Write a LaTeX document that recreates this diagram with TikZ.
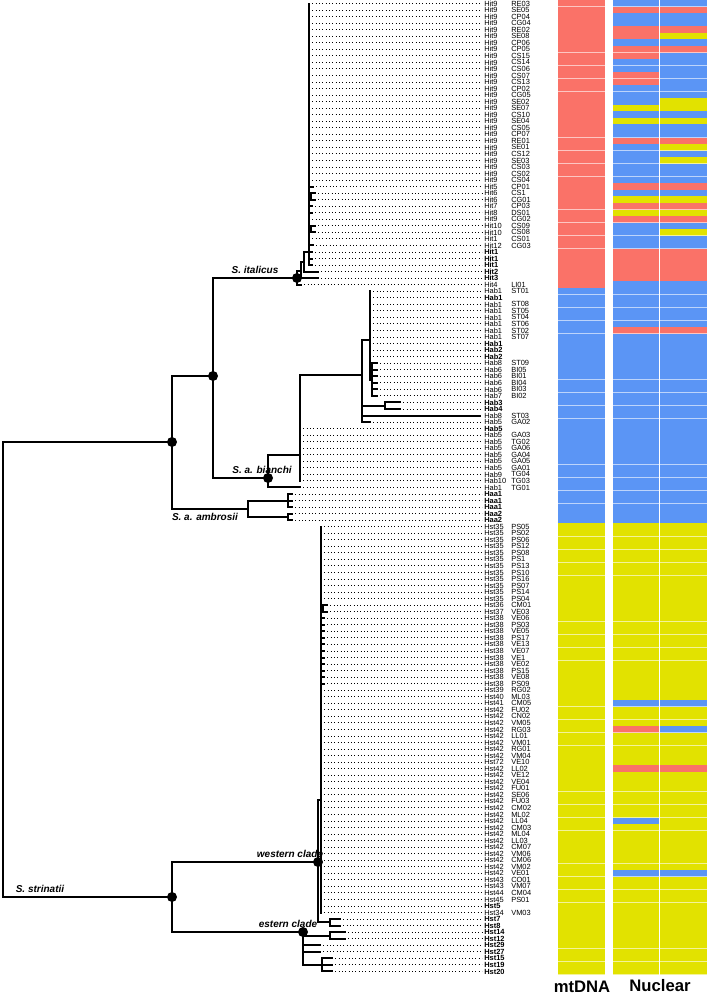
\documentclass[tikz,border=0pt]{standalone}
\usepackage{fontspec}
\setmainfont{Liberation Sans}
\begin{document}
\begin{tikzpicture}[x=0.75pt,y=-0.75pt,
  br/.style={line width=1.5pt,line cap=rect},
  dotl/.style={line width=0.7pt,dash pattern=on 0.7pt off 1.8pt},
  lab/.style={font=\fontsize{5.6}{5.6}\selectfont,anchor=west,inner sep=0pt},
  nd/.style={circle,fill=black,inner sep=0pt,minimum size=7.5pt},
  clab/.style={font=\fontsize{7.5}{7.5}\selectfont\bfseries\itshape,inner sep=1pt},
  head/.style={font=\fontsize{12.5}{12.5}\selectfont\bfseries,inner sep=0pt}]
\useasboundingbox (0,0) rectangle (709,996);
\definecolor{cr}{HTML}{FA7268}
\definecolor{cb}{HTML}{5B95F5}
\definecolor{cy}{HTML}{E2E200}
\foreach \i/\tx/\lA/\lB/\bo/\cM/\cL/\cR in {
1/309/Hit9/RE03/0/cr/cb/cb, 2/309/Hit9/SE05/0/cr/cr/cr, 3/309/Hit9/CP04/0/cr/cb/cb,
4/309/Hit9/CG04/0/cr/cb/cb, 5/309/Hit9/RE02/0/cr/cr/cr, 6/309/Hit9/SE08/0/cr/cr/cy,
7/309/Hit9/CP06/0/cr/cb/cb, 8/309/Hit9/CP05/0/cr/cr/cr, 9/309/Hit9/CS15/0/cr/cr/cb,
10/309/Hit9/CS14/0/cr/cb/cb, 11/309/Hit9/CS06/0/cr/cb/cb, 12/309/Hit9/CS07/0/cr/cr/cb,
13/309/Hit9/CS13/0/cr/cr/cb, 14/309/Hit9/CP02/0/cr/cb/cb, 15/309/Hit9/CG05/0/cr/cb/cb,
16/309/Hit9/SE02/0/cr/cb/cy, 17/309/Hit9/SE07/0/cr/cy/cy, 18/309/Hit9/CS10/0/cr/cb/cb,
19/309/Hit9/SE04/0/cr/cy/cy, 20/309/Hit9/CS05/0/cr/cb/cb, 21/309/Hit9/CP07/0/cr/cb/cb,
22/309/Hit9/RE01/0/cr/cr/cr, 23/309/Hit9/SE01/0/cr/cb/cy, 24/309/Hit9/CS12/0/cr/cb/cb,
25/309/Hit9/SE03/0/cr/cb/cy, 26/309/Hit9/CS03/0/cr/cb/cb, 27/309/Hit9/CS02/0/cr/cb/cb,
28/309/Hit9/CS04/0/cr/cb/cb, 29/313/Hit5/CP01/0/cr/cr/cr, 30/315/Hit6/CS1/0/cr/cb/cb,
31/315/Hit6/CG01/0/cr/cy/cy, 32/312/Hit7/CP03/0/cr/cr/cr, 33/312/Hit8/DS01/0/cr/cy/cy,
34/309/Hit9/CG02/0/cr/cr/cr, 35/315/Hit10/CS09/0/cr/cb/cb, 36/315/Hit10/CS08/0/cr/cb/cy,
37/309/Hit1/CS01/0/cr/cb/cb, 38/313/Hit12/CG03/0/cr/cb/cb, 39/312/Hit1//1/cr/cr/cr,
40/312/Hit1//1/cr/cr/cr, 41/312/Hit1//1/cr/cr/cr, 42/318/Hit2//1/cr/cr/cr,
43/318/Hit3//1/cr/cr/cr, 44/301/Hit4/LI01/0/cr/cb/cb,
45/370/Hab1/ST01/0/cb/cb/cb, 46/370/Hab1//1/cb/cb/cb, 47/370/Hab1/ST08/0/cb/cb/cb,
48/370/Hab1/ST05/0/cb/cb/cb, 49/370/Hab1/ST04/0/cb/cb/cb, 50/370/Hab1/ST06/0/cb/cb/cb,
51/370/Hab1/ST02/0/cb/cr/cr, 52/370/Hab1/ST07/0/cb/cb/cb, 53/370/Hab1//1/cb/cb/cb,
54/370/Hab2//1/cb/cb/cb, 55/370/Hab2//1/cb/cb/cb, 56/377/Hab8/ST09/0/cb/cb/cb,
57/377/Hab6/BI05/0/cb/cb/cb, 58/377/Hab6/BI01/0/cb/cb/cb, 59/377/Hab6/BI04/0/cb/cb/cb,
60/377/Hab6/BI03/0/cb/cb/cb, 61/377/Hab7/BI02/0/cb/cb/cb, 62/400/Hab3//1/cb/cb/cb,
63/400/Hab4//1/cb/cb/cb, 64/480/Hab8/ST03/0/cb/cb/cb, 65/370/Hab5/GA02/0/cb/cb/cb,
66/300/Hab5//1/cb/cb/cb, 67/300/Hab5/GA03/0/cb/cb/cb, 68/300/Hab5/TG02/0/cb/cb/cb,
69/300/Hab5/GA06/0/cb/cb/cb, 70/300/Hab5/GA04/0/cb/cb/cb, 71/300/Hab5/GA05/0/cb/cb/cb,
72/300/Hab5/GA01/0/cb/cb/cb, 73/300/Hab9/TG04/0/cb/cb/cb, 74/300/Hab10/TG03/0/cb/cb/cb,
75/300/Hab1/TG01/0/cb/cb/cb,
76/292/Haa1//1/cb/cb/cb, 77/292/Haa1//1/cb/cb/cb, 78/292/Haa1//1/cb/cb/cb,
79/292/Haa2//1/cb/cb/cb, 80/292/Haa2//1/cb/cb/cb,
81/321/Hst35/PS05/0/cy/cy/cy, 82/321/Hst35/PS02/0/cy/cy/cy, 83/321/Hst35/PS06/0/cy/cy/cy,
84/321/Hst35/PS12/0/cy/cy/cy, 85/321/Hst35/PS08/0/cy/cy/cy, 86/321/Hst35/PS1/0/cy/cy/cy,
87/321/Hst35/PS13/0/cy/cy/cy, 88/321/Hst35/PS10/0/cy/cy/cy, 89/321/Hst35/PS16/0/cy/cy/cy,
90/321/Hst35/PS07/0/cy/cy/cy, 91/321/Hst35/PS14/0/cy/cy/cy, 92/321/Hst35/PS04/0/cy/cy/cy,
93/327/Hst36/CM01/0/cy/cy/cy, 94/327/Hst37/VE03/0/cy/cy/cy, 95/324/Hst38/VE06/0/cy/cy/cy,
96/324/Hst38/PS03/0/cy/cy/cy, 97/324/Hst38/VE05/0/cy/cy/cy, 98/324/Hst38/PS17/0/cy/cy/cy,
99/324/Hst38/VE13/0/cy/cy/cy, 100/324/Hst38/VE07/0/cy/cy/cy, 101/324/Hst38/VE1/0/cy/cy/cy,
102/324/Hst38/VE02/0/cy/cy/cy, 103/324/Hst38/PS15/0/cy/cy/cy, 104/324/Hst38/VE08/0/cy/cy/cy,
105/324/Hst38/PS09/0/cy/cy/cy, 106/321/Hst39/RG02/0/cy/cy/cy, 107/321/Hst40/ML03/0/cy/cy/cy,
108/321/Hst41/CM05/0/cy/cb/cb, 109/321/Hst42/FU02/0/cy/cy/cy, 110/321/Hst42/CN02/0/cy/cy/cy,
111/321/Hst42/VM05/0/cy/cy/cy, 112/321/Hst42/RG03/0/cy/cr/cb, 113/321/Hst42/LL01/0/cy/cy/cy,
114/321/Hst42/VM01/0/cy/cy/cy, 115/321/Hst42/RG01/0/cy/cy/cy, 116/321/Hst42/VM04/0/cy/cy/cy,
117/321/Hst72/VE10/0/cy/cy/cy, 118/321/Hst42/LL02/0/cy/cr/cr, 119/321/Hst42/VE12/0/cy/cy/cy,
120/321/Hst42/VE04/0/cy/cy/cy, 121/321/Hst42/FU01/0/cy/cy/cy, 122/321/Hst42/SE06/0/cy/cy/cy,
123/321/Hst42/FU03/0/cy/cy/cy, 124/321/Hst42/CM02/0/cy/cy/cy, 125/321/Hst42/ML02/0/cy/cy/cy,
126/321/Hst42/LL04/0/cy/cb/cy, 127/321/Hst42/CM03/0/cy/cy/cy, 128/321/Hst42/ML04/0/cy/cy/cy,
129/321/Hst42/LL03/0/cy/cy/cy, 130/321/Hst42/CM07/0/cy/cy/cy, 131/321/Hst42/VM06/0/cy/cy/cy,
132/321/Hst42/CM06/0/cy/cy/cy, 133/321/Hst42/VM02/0/cy/cy/cy, 134/321/Hst42/VE01/0/cy/cb/cb,
135/321/Hst43/CO01/0/cy/cy/cy, 136/321/Hst43/VM07/0/cy/cy/cy, 137/321/Hst44/CM04/0/cy/cy/cy,
138/321/Hst45/PS01/0/cy/cy/cy, 139/321/Hst5//1/cy/cy/cy, 140/321/Hst34/VM03/0/cy/cy/cy,
141/340/Hst7//1/cy/cy/cy, 142/340/Hst8//1/cy/cy/cy, 143/345/Hst14//1/cy/cy/cy,
144/345/Hst12//1/cy/cy/cy, 145/320/Hst29//1/cy/cy/cy, 146/320/Hst27//1/cy/cy/cy,
147/332/Hst15//1/cy/cy/cy, 148/332/Hst19//1/cy/cy/cy, 149/332/Hst20//1/cy/cy/cy}{
  \pgfmathsetmacro\yy{3.5+(\i-1)*6.54}
  \coordinate (t\i) at (\tx,\yy);
  \draw[dotl] (t\i) -- (482,\yy);
  \node[lab] (la\i) at (484,\yy) {\ifnum\bo=1\bfseries\fi\lA};
  \node[lab] (lb\i) at (511,\yy) {\lB};
  \fill[\cM] (558,\yy-3.27) rectangle (605,\yy+3.27);
  \fill[\cL] (613,\yy-3.27) rectangle (659,\yy+3.27);
  \fill[\cR] (659,\yy-3.27) rectangle (707,\yy+3.27);
  \draw[white,opacity=0.6,line width=0.5pt] (558,\yy+3.27) -- (605,\yy+3.27) (613,\yy+3.27) -- (707,\yy+3.27);
}
\draw[white,line width=0.6pt] (659,0.2) -- (659,975);
% ---- internal nodes
\coordinate (h6) at (311,196.5);
\coordinate (h10) at (311,229);
\coordinate (Z) at (309,252);
\coordinate (Y) at (304,262);
\coordinate (X) at (301,271);
\coordinate (I) at (297,278);
\coordinate (Hd) at (372,379.5);
\coordinate (Hc) at (370,340);
\coordinate (He) at (385,405.7);
\coordinate (Ha) at (362,375);
\coordinate (Hb) at (300,455);
\coordinate (H) at (268,478);
\coordinate (A) at (213,376);
\coordinate (am1) at (288,500.5);
\coordinate (am2) at (288,516.9);
\coordinate (Amb) at (248,508.7);
\coordinate (B) at (172,442);
\coordinate (g93) at (323,608.5);
\coordinate (W1) at (321,800);
\coordinate (W2) at (330,922.4);
\coordinate (W) at (318,862);
\coordinate (E1) at (330,935.5);
\coordinate (E2) at (322,965);
\coordinate (E) at (303,932);
\coordinate (S) at (172,897);
\coordinate (R) at (3,669.5);
% ---- edges
\foreach \p/\c in {h6/t30,h6/t31,h10/t35,h10/t36,Z/h6,Z/h10,Y/Z,Y/t42,X/Y,X/t43,I/X,I/t44,
  Hd/t56,Hd/t57,Hd/t58,Hd/t59,Hd/t60,Hd/t61,Hc/Hd,He/t62,He/t63,Ha/Hc,Ha/He,Ha/t64,Ha/t65,
  Hb/Ha,H/Hb,H/t75,A/I,A/H,am1/t76,am1/t77,am1/t78,am2/t79,am2/t80,Amb/am1,Amb/am2,B/A,B/Amb,
  g93/t93,g93/t94,W1/g93,W2/t141,W2/t142,W/W1,W/W2,E1/t143,E1/t144,E2/t147,E2/t148,E2/t149,
  E/E1,E/t145,E/t146,E/E2,S/W,S/E,R/B,R/S}{\draw[br] (\p) |- (\c);}
\foreach \c in {1,...,29,32,33,34,37,38,39,40,41}{\draw[br] (Z) |- (t\c);}
\foreach \c in {45,...,55}{\draw[br] (Hc) |- (t\c);}
\foreach \c in {66,...,74}{\draw[br] (Hb) |- (t\c);}
\foreach \c in {81,...,92,95,96,...,140}{\draw[br] (W1) |- (t\c);}
% ---- support dots
\foreach \n in {I,A,H,B,W,E,S}{\node[nd] (d\n) at (\n) {};}
% ---- clade labels
\node[clab,anchor=south] (lit) at (255,275) {S. italicus};
\node[clab,anchor=south] (lbi) at (262,475) {S. a. bianchi};
\node[clab,anchor=north] (lam) at (205,512) {S. a. ambrosii};
\node[clab,anchor=south] (lst) at (40,894) {S. strinatii};
\node[clab,anchor=south] (lwe) at (290,859) {western clade};
\node[clab,anchor=south] (les) at (288,929) {estern clade};
\node[head] (hm) at (582,987) {mtDNA};
\node[head] (hn) at (660,986) {Nuclear};
\end{tikzpicture}
\end{document}
